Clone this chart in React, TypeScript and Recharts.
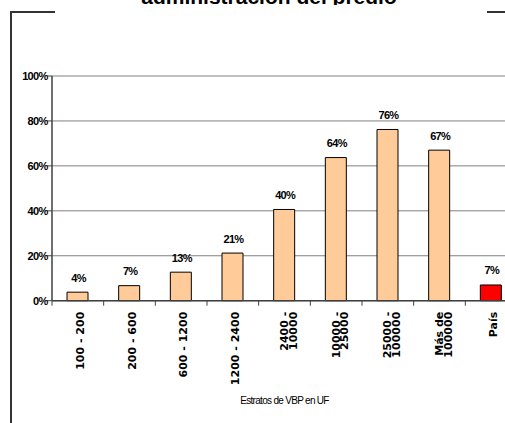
import React from 'react';
import { BarChart, Bar, XAxis, YAxis, CartesianGrid, Cell, LabelList, Label } from 'recharts';

const categories = [
  '100 - 200',
  '200 - 600',
  '600 - 1200',
  '1200 - 2400',
  '2400 -\n10000',
  '10000 -\n25000',
  '25000 -\n100000',
  'Más de\n100000',
  'País',
];
const shares = [3.8, 6.7, 12.7, 21.2, 40.6, 63.7, 76.2, 67.0, 7.0];
const shareLabels = ['4%', '7%', '13%', '21%', '40%', '64%', '76%', '67%', '7%'];
const yTicks = [0, 20, 40, 60, 80, 100];
const xTitle = 'Estratos de VBP en UF';
const title = 'administración del predio';
const highlight = 'País';

const data = categories.map((name, i) => ({ name, value: shares[i], label: shareLabels[i] }));

const FONT = '"Liberation Sans", Arial, sans-serif';
const WIDE = '"DejaVu Sans", Verdana, sans-serif';

const XTick = (props: any) => {
  const { x, y, payload } = props;
  const half = payload && typeof payload.offset === 'number' && payload.offset > 0 ? payload.offset : 25.8;
  const lines = String(payload.value).split('\n');
  return (
    <g>
      <line x1={x - half} y1={y} x2={x - half} y2={y + 5} stroke="#404040" strokeWidth={1} />
      {lines.map((ln, i) => {
        const bx = lines.length === 1 ? x + 6.1 : x + 3.6 + i * 8.7;
        return (
          <text
            key={i}
            transform={`translate(${bx},${y + 11}) rotate(-90)`}
            textAnchor="end"
            fontSize={11}
            fontWeight="bold"
            fontFamily={WIDE}
            fill="#000"
          >
            {ln}
          </text>
        );
      })}
    </g>
  );
};

const YTick = (props: any) => {
  const { x, y, payload } = props;
  return (
    <text
      x={x + 0.5}
      y={y}
      dy="0.355em"
      textAnchor="end"
      fontSize={11}
      fontWeight="bold"
      letterSpacing={-0.7}
      fontFamily={FONT}
      fill="#000"
    >
      {payload.value + '%'}
    </text>
  );
};

const BarLabel = (props: any) => {
  const { x, y, width, value } = props;
  return (
    <text
      x={x + width / 2 + 1}
      y={y - 10.5}
      textAnchor="middle"
      fontSize={11}
      fontWeight="bold"
      letterSpacing={-0.7}
      fontFamily={FONT}
      fill="#000"
    >
      {value}
    </text>
  );
};

const AxisTitle = (props: any) => {
  const vb = props.viewBox || {};
  return (
    <text
      x={vb.x + vb.width / 2}
      y={vb.y + 103.5}
      textAnchor="middle"
      fontSize={10}
      letterSpacing={-0.7}
      fontFamily={FONT}
      fill="#000"
    >
      {xTitle}
    </text>
  );
};

export default function App() {
  return (
    <div
      style={{
        position: 'fixed',
        left: 0,
        top: 0,
        width: 505,
        height: 423,
        overflow: 'hidden',
        background: '#fff',
      }}
    >
      <div style={{ position: 'absolute', left: 0, top: 0, width: 538, height: 5, overflow: 'hidden' }}>
        <div
          style={{
            position: 'absolute',
            left: 0,
            top: -13.6,
            width: 538,
            textAlign: 'center',
            fontFamily: FONT,
            fontWeight: 'bold',
            fontSize: 21,
            lineHeight: '21px',
            whiteSpace: 'nowrap',
            color: '#000',
          }}
        >
          {title}
        </div>
      </div>
      <div style={{ position: 'absolute', left: 10, top: 11, width: 2, height: 412, background: '#333' }} />
      <div style={{ position: 'absolute', left: 10, top: 11, width: 45, height: 2, background: '#333' }} />
      <div style={{ position: 'absolute', left: 487, top: 11, width: 18, height: 2, background: '#333' }} />
      <div style={{ position: 'absolute', left: 0, top: 0 }}>
        <BarChart
          width={520}
          height={423}
          data={data}
          margin={{ top: 76, right: 3, bottom: 0, left: 0 }}
          barSize={21}
        >
          <CartesianGrid vertical={false} stroke="#808080" strokeWidth={1} />
          <YAxis
            type="number"
            domain={[0, 100]}
            ticks={yTicks}
            width={52}
            tickSize={5}
            tickMargin={0}
            tick={<YTick />}
            axisLine={{ stroke: '#404040', strokeWidth: 1.5 }}
            tickLine={{ stroke: '#404040' }}
            interval={0}
          />
          <XAxis
            dataKey="name"
            type="category"
            height={122.3}
            interval={0}
            tickSize={0}
            tickMargin={0}
            tickLine={false}
            tick={<XTick />}
            axisLine={{ stroke: '#404040', strokeWidth: 1.5 }}
          >
            <Label content={<AxisTitle />} />
          </XAxis>
          <Bar dataKey="value" stroke="#000" strokeWidth={1} isAnimationActive={false}>
            {data.map((d, i) => (
              <Cell key={i} fill={d.name === highlight ? '#FF0000' : '#FFCC99'} />
            ))}
            <LabelList dataKey="label" content={<BarLabel />} />
          </Bar>
        </BarChart>
      </div>
    </div>
  );
}
